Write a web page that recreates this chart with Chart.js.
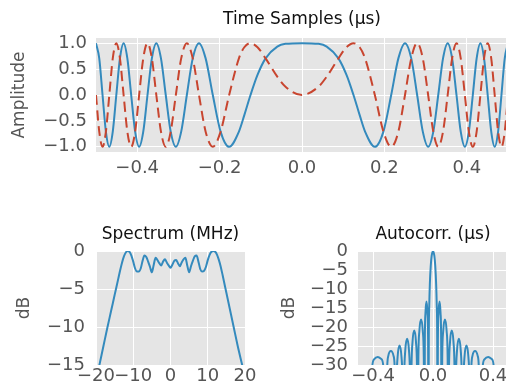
<!DOCTYPE html>
<html>
<head>
<meta charset="utf-8">
<script src="https://cdn.jsdelivr.net/npm/chart.js@4.4.6/dist/chart.umd.min.js"></script>
<style>
  html, body { margin: 0; padding: 0; background: #fff; overflow: hidden; }
  body { position: relative; width: 506px; height: 391px; }
  canvas { position: absolute; }
</style>
</head>
<body>
<canvas id="wave" width="508" height="190" style="left:0;top:0"></canvas>
<canvas id="spectrum" width="262" height="181" style="left:0;top:210px"></canvas>
<canvas id="autocorr" width="246" height="181" style="left:262px;top:210px"></canvas>
<script>
// LFM pulse: real / imaginary samples over the pulse (µs)
const timeUs = [
  -0.5, -0.4921, -0.4841, -0.476, -0.4677, -0.4593, -0.4507, -0.4419, -0.433, -0.4239,
  -0.4146, -0.405, -0.3953, -0.3853, -0.375, -0.3644, -0.3536, -0.3423, -0.3307, -0.3187,
  -0.3062, -0.2932, -0.2795, -0.2652, -0.25, -0.2339, -0.2165, -0.1976, -0.1768, -0.1531,
  -0.14, -0.125, -0.108, -0.0884, -0.06, -0.04,
  0,
  0.04, 0.06, 0.0884, 0.108, 0.125, 0.14, 0.1531, 0.1768, 0.1976, 0.2165,
  0.2339, 0.25, 0.2652, 0.2795, 0.2932, 0.3062, 0.3187, 0.3307, 0.3423, 0.3536,
  0.3644, 0.375, 0.3853, 0.3953, 0.405, 0.4146, 0.4239, 0.433, 0.4419, 0.4507,
  0.4593, 0.4677, 0.476, 0.4841, 0.4921, 0.5
];
const realPart = [
  1, 0.707, 0, -0.707, -1, -0.707, 0, 0.707, 1, 0.707,
  0, -0.707, -1, -0.707, 0, 0.707, 1, 0.707, 0, -0.707,
  -1, -0.707, 0, 0.707, 1, 0.707, 0, -0.707, -1, -0.707,
  -0.389, 0, 0.388, 0.707, 0.935, 0.987,
  1,
  0.987, 0.935, 0.707, 0.388, 0, -0.389, -0.707, -1, -0.707, 0,
  0.707, 1, 0.707, 0, -0.707, -1, -0.707, 0, 0.707, 1,
  0.707, 0, -0.707, -1, -0.707, 0, 0.707, 1, 0.707, 0,
  -0.707, -1, -0.707, 0, 0.707, 1
];
const imagPart = [
  0, -0.707, -1, -0.707, 0, 0.707, 1, 0.707, 0, -0.707,
  -1, -0.707, 0, 0.707, 1, 0.707, 0, -0.707, -1, -0.707,
  0, 0.707, 1, 0.707, 0, -0.707, -1, -0.707, 0, 0.707,
  0.921, 1, 0.922, 0.707, 0.354, 0.16,
  0,
  0.16, 0.354, 0.707, 0.922, 1, 0.921, 0.707, 0, -0.707, -1,
  -0.707, 0, 0.707, 1, 0.707, 0, -0.707, -1, -0.707, 0,
  0.707, 1, 0.707, 0, -0.707, -1, -0.707, 0, 0.707, 1,
  0.707, 0, -0.707, -1, -0.707, 0
];

// magnitude spectrum (MHz, dB)
const freqMHz = [
  -20, -19, -18, -17, -16, -15, -14,
  -13.5, -13, -12.5, -12, -11.5, -11, -10.5, -10, -9.5, -9, -8.5, -8, -7.5, -7,
  -6.5, -6, -5.5, -5, -4.5, -4, -3.5, -3, -2.5, -2, -1.5, -1, -0.5, 0,
  0.5, 1, 1.5, 2, 2.5, 3, 3.5, 4, 4.5, 5, 5.5, 6, 6.5, 7,
  7.5, 8, 8.5, 9, 9.5, 10, 10.5, 11, 11.5, 12, 12.5, 13, 13.5,
  14, 15, 16, 17, 18, 19, 20
];
const spectrumDb = [
  -17.1, -14.8, -12.5, -10.2, -8.0, -5.8, -3.6,
  -2.5, -1.5, -0.7, -0.2, 0, -0.1, -0.6, -1.4, -2.3, -2.7, -2.7, -2.3, -1.3, -0.6,
  -0.8, -1.4, -2.1, -2.8, -1.8, -0.9, -1.2, -1.6, -1.9, -1.4, -1.1, -1.5, -1.9, -2.2,
  -1.8, -1.3, -1.2, -1.6, -2.0, -1.5, -1.1, -0.9, -1.9, -2.8, -2.0, -1.3, -0.7, -0.6,
  -1.4, -2.4, -2.7, -2.6, -2.1, -1.2, -0.5, -0.1, 0, -0.1, -0.5, -1.2, -2.1,
  -3.2, -5.5, -7.8, -10.1, -12.4, -14.5, -16.5
];

// autocorrelation (lag µs, dB)
const lagUs = [
  -0.5, -0.45, -0.414, -0.407, -0.393, -0.368, -0.343, -0.329, -0.322,
  -0.312, -0.307, -0.298, -0.2805, -0.263, -0.254, -0.249,
  -0.2438, -0.236, -0.223, -0.21, -0.2022, -0.197,
  -0.1921, -0.1848, -0.1725, -0.1603, -0.1529, -0.148,
  -0.1434, -0.1365, -0.125, -0.1135, -0.1066, -0.102,
  -0.0975, -0.0908, -0.0795, -0.0683, -0.0615, -0.057,
  -0.0543, -0.0503, -0.0435, -0.0368, -0.0327, -0.03,
  -0.028, -0.025, -0.021, -0.015, -0.009,
  0,
  0.009, 0.015, 0.021, 0.025, 0.028,
  0.03, 0.0327, 0.0368, 0.0435, 0.0503, 0.0543,
  0.057, 0.0615, 0.0683, 0.0795, 0.0908, 0.0975,
  0.102, 0.1066, 0.1135, 0.125, 0.1365, 0.1434,
  0.148, 0.1529, 0.1603, 0.1725, 0.1848, 0.1921,
  0.197, 0.2022, 0.21, 0.223, 0.236, 0.2438,
  0.249, 0.254, 0.263, 0.2805, 0.298, 0.307, 0.312,
  0.322, 0.329, 0.343, 0.368, 0.393, 0.407, 0.414, 0.45, 0.5
];
const autocorrDb = [
  -48, -46, -50, -31.5, -28.5, -27.9, -28.5, -31.5, -50,
  -50, -32.5, -27.6, -26.3, -27.6, -32.5, -50,
  -34.9, -27.9, -24.9, -27.9, -34.9, -50,
  -33.1, -26.1, -23.1, -26.1, -33.1, -50,
  -30.9, -23.9, -20.9, -23.9, -30.9, -50,
  -28, -21, -18, -21, -28, -50,
  -23.3, -16.3, -13.3, -16.3, -23.3, -50,
  -22.5, -14.4, -8.7, -3.9, -1.3,
  0,
  -1.3, -3.9, -8.7, -14.4, -22.5,
  -50, -23.3, -16.3, -13.3, -16.3, -23.3,
  -50, -28, -21, -18, -21, -28,
  -50, -30.9, -23.9, -20.9, -23.9, -30.9,
  -50, -33.1, -26.1, -23.1, -26.1, -33.1,
  -50, -34.9, -27.9, -24.9, -27.9, -34.9,
  -50, -32.5, -27.6, -26.3, -27.6, -32.5, -50,
  -50, -31.5, -28.5, -27.9, -28.5, -31.5, -50, -46, -48
];

// tick positions
const waveXTicks = [-0.4, -0.2, 0, 0.2, 0.4];
const waveYTicks = [-1, -0.5, 0, 0.5, 1];
const specXTicks = [-20, -10, 0, 10, 20];
const specYTicks = [-15, -10, -5, 0];
const acXTicks = [-0.4, 0, 0.4];
const acYTicks = [-30, -25, -20, -15, -10, -5, 0];

const FONT = "'DejaVu Sans', sans-serif";
const LABEL_GREY = '#555555';
const BLUE = '#348ABD';
const RED = '#C8452F';

Chart.defaults.font.family = FONT;
Chart.defaults.animation = false;

// ggplot-like grey panel
const panelBg = {
  id: 'panelBg',
  beforeDraw(chart) {
    const { ctx, chartArea: a } = chart;
    ctx.save();
    ctx.fillStyle = '#E5E5E5';
    ctx.fillRect(a.left, a.top, a.right - a.left, a.bottom - a.top);
    ctx.restore();
  }
};

const minus = s => s.replace('-', '\u2212');
const toPts = (xs, ys) => xs.map((x, i) => ({ x, y: ys[i] }));

function xAxis(min, max, ticks, fmt, height, pad) {
  return {
    type: 'linear', min, max,
    afterBuildTicks: s => { s.ticks = ticks.map(v => ({ value: v })); },
    afterFit: s => { s.height = height; s.paddingLeft = 0; s.paddingRight = 0; },
    grid: { color: '#ffffff', lineWidth: 1, drawTicks: false },
    border: { display: false },
    ticks: {
      color: LABEL_GREY, font: { size: 18 }, padding: pad,
      autoSkip: false, maxRotation: 0, minRotation: 0,
      callback: v => minus(fmt(v))
    }
  };
}

function yAxis(min, max, ticks, fmt, width, pad, label, labelPad) {
  return {
    type: 'linear', min, max,
    afterBuildTicks: s => { s.ticks = ticks.map(v => ({ value: v })); },
    afterFit: s => { s.width = width; s.paddingTop = 0; s.paddingBottom = 0; },
    grid: { color: '#ffffff', lineWidth: 1, drawTicks: false },
    border: { display: false },
    ticks: {
      color: LABEL_GREY, font: { size: 18 }, padding: pad,
      autoSkip: false, callback: v => minus(fmt(v))
    },
    title: {
      display: true, text: label, color: LABEL_GREY,
      font: { size: 17 }, padding: { top: labelPad, bottom: 0 }
    }
  };
}

function titleOpts(text, top, bottom) {
  return {
    display: true, text, color: '#111111', fullSize: false,
    font: { size: 17, weight: 'normal' }, padding: { top, bottom }
  };
}

const lineStyle = { pointRadius: 0, borderWidth: 2, fill: false, cubicInterpolationMode: 'monotone' };

new Chart(document.getElementById('wave'), {
  type: 'line',
  data: {
    datasets: [
      { ...lineStyle, data: toPts(timeUs, imagPart), borderColor: RED, borderDash: [10, 5.5] },
      { ...lineStyle, data: toPts(timeUs, realPart), borderColor: BLUE }
    ]
  },
  options: {
    responsive: false, devicePixelRatio: 1,
    layout: { padding: 0 },
    plugins: { legend: { display: false }, tooltip: { enabled: false },
      title: titleOpts('Time Samples (\u00b5s)', 9.3, 8.3) },
    scales: {
      x: xAxis(-0.5, 0.5, waveXTicks, v => v.toFixed(1), 38, 6),
      y: yAxis(-1.1, 1.1, waveYTicks, v => v.toFixed(1), 96, 9, 'Amplitude', 9)
    }
  },
  plugins: [panelBg]
});

new Chart(document.getElementById('spectrum'), {
  type: 'line',
  data: { datasets: [{ ...lineStyle, data: toPts(freqMHz, spectrumDb), borderColor: BLUE }] },
  options: {
    responsive: false, devicePixelRatio: 1,
    layout: { padding: { right: 17 } },
    plugins: { legend: { display: false }, tooltip: { enabled: false },
      title: titleOpts('Spectrum (MHz)', 14.5, 6.1) },
    scales: {
      x: xAxis(-20, 20, specXTicks, v => String(v), 26, 1),
      y: yAxis(-15, 0, specYTicks, v => String(v), 96, 11, 'dB', 14.8)
    }
  },
  plugins: [panelBg]
});

new Chart(document.getElementById('autocorr'), {
  type: 'line',
  data: { datasets: [{ ...lineStyle, data: toPts(lagUs, autocorrDb), borderColor: BLUE }] },
  options: {
    responsive: false, devicePixelRatio: 1,
    layout: { padding: 0 },
    plugins: { legend: { display: false }, tooltip: { enabled: false },
      title: titleOpts('Autocorr. (\u00b5s)', 14.5, 6.1) },
    scales: {
      x: xAxis(-0.5, 0.5, acXTicks, v => v.toFixed(1), 26, 1),
      y: yAxis(-30, 0, acYTicks, v => String(v), 96, 10, 'dB', 17.8)
    }
  },
  plugins: [panelBg]
});
</script>
</body>
</html>
